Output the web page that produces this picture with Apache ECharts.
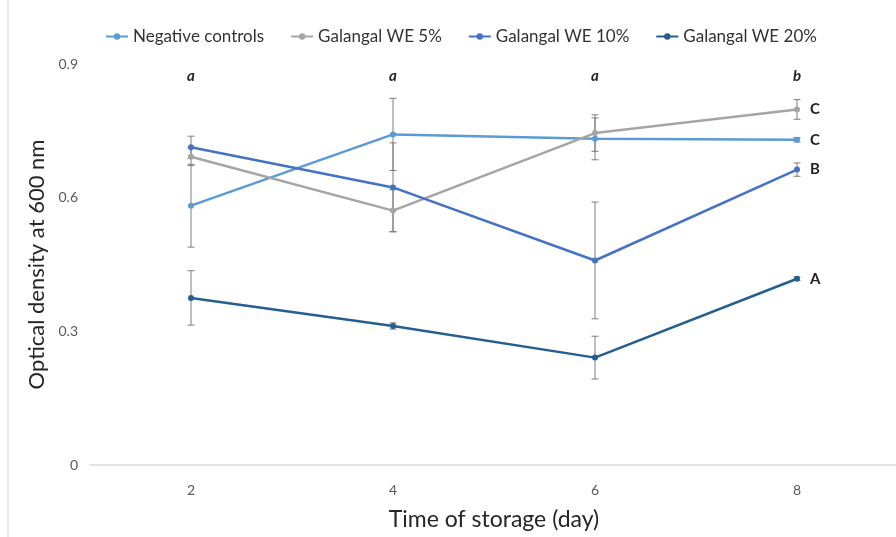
<!DOCTYPE html>
<html>
<head>
<meta charset="utf-8">
<script src="https://cdn.jsdelivr.net/npm/echarts@6/dist/echarts.min.js"></script>
<style>
  html, body { margin: 0; background: #fff; }
  #chart { width: 896px; height: 537px; }
</style>
</head>
<body>
<div id="chart"></div>
<script>
// storage days and the group letters shown above each day
const days = ['2', '4', '6', '8']
const dayLetters = ['a', 'a', 'a', 'b']

const seriesNames = ['Negative controls', 'Galangal WE 5%', 'Galangal WE 10%', 'Galangal WE 20%']
const endLetters = ['C', 'C', 'B', 'A']

// mean optical density at 600 nm
const negativeControls = [0.582, 0.742, 0.732, 0.730]
const galangal5 = [0.692, 0.571, 0.745, 0.798]
const galangal10 = [0.713, 0.623, 0.459, 0.663]
const galangal20 = [0.375, 0.312, 0.241, 0.418]

// +/- error
const negativeControlsErr = [0.093, 0.081, 0.047, 0.005]
const galangal5Err = [0.02, 0.047, 0.041, 0.022]
const galangal10Err = [0.025, 0.100, 0.131, 0.015]
const galangal20Err = [0.061, 0.007, 0.048, 0.004]

const means = [negativeControls, galangal5, galangal10, galangal20]
const errors = [negativeControlsErr, galangal5Err, galangal10Err, galangal20Err]
const colors = ['#5B9BD5', '#A5A5A5', '#4472C4', '#255E91']

const font = 'Lato'

const chart = echarts.init(document.getElementById('chart'))

const lineSeries = seriesNames.map((name, i) => ({
  name,
  type: 'line',
  xAxisIndex: 0,
  data: means[i].map((v, j) => {
    if (j !== means[i].length - 1) return v
    return {
      value: v,
      label: {
        show: true,
        position: 'right',
        distance: 10,
        formatter: endLetters[i],
        fontFamily: font,
        fontSize: 15,
        fontWeight: 'bold',
        color: '#222'
      }
    }
  }),
  symbol: 'circle',
  symbolSize: 6,
  lineStyle: { width: 2.5, color: colors[i] },
  itemStyle: { color: colors[i] },
  z: 3
}))

const errorData = []
means.forEach((arr, i) => {
  arr.forEach((v, j) => errorData.push([j, v, errors[i][j]]))
})

const errorSeries = {
  type: 'custom',
  xAxisIndex: 0,
  data: errorData,
  z: 2,
  silent: true,
  renderItem: (params, api) => {
    const x = api.value(0)
    const m = api.value(1)
    const e = api.value(2)
    const top = api.coord([x, m + e])
    const bot = api.coord([x, m - e])
    const w = 3.5
    const style = { stroke: '#7f7f7f', lineWidth: 1 }
    return {
      type: 'group',
      children: [
        { type: 'line', shape: { x1: top[0], y1: top[1], x2: bot[0], y2: bot[1] }, style },
        { type: 'line', shape: { x1: top[0] - w, y1: top[1], x2: top[0] + w, y2: top[1] }, style },
        { type: 'line', shape: { x1: bot[0] - w, y1: bot[1], x2: bot[0] + w, y2: bot[1] }, style }
      ]
    }
  }
}

const option = {
  animation: false,
  backgroundColor: '#fff',
  graphic: [{
    type: 'line',
    shape: { x1: 8, y1: 0, x2: 8, y2: 537 },
    style: { stroke: '#d0d0d0', lineWidth: 1 }
  }],
  legend: {
    top: 23,
    left: 100,
    itemWidth: 22,
    itemHeight: 8,
    itemGap: 26,
    textStyle: { fontFamily: font, fontSize: 17, color: '#333' },
    data: seriesNames
  },
  grid: {
    left: 90,
    top: 64,
    width: 808,
    height: 401,
    outerBoundsMode: 'none'
  },
  xAxis: [
    {
      type: 'category',
      data: days,
      axisLine: { lineStyle: { color: '#d9d9d9', width: 1.5 } },
      axisTick: { show: false },
      axisLabel: { fontFamily: font, fontSize: 14, color: '#595959', margin: 18 },
      name: 'Time of storage (day)',
      nameLocation: 'middle',
      nameGap: 43,
      nameTextStyle: { fontFamily: font, fontSize: 23, color: '#262626' }
    },
    {
      type: 'category',
      position: 'top',
      data: dayLetters,
      axisLine: { show: false },
      axisTick: { show: false },
      axisLabel: {
        inside: true,
        margin: 5,
        fontFamily: font,
        fontSize: 15,
        fontStyle: 'italic',
        fontWeight: 'bold',
        color: '#222'
      }
    }
  ],
  yAxis: {
    type: 'value',
    min: 0,
    max: 0.9,
    interval: 0.3,
    splitLine: { show: false },
    axisLine: { show: false },
    axisTick: { show: false },
    axisLabel: { fontFamily: font, fontSize: 14, color: '#595959', margin: 12 },
    name: 'Optical density at 600 nm',
    nameLocation: 'middle',
    nameGap: 33,
    nameTextStyle: { fontFamily: font, fontSize: 22, color: '#262626' }
  },
  series: [errorSeries, ...lineSeries]
}

chart.setOption(option)
</script>
</body>
</html>
